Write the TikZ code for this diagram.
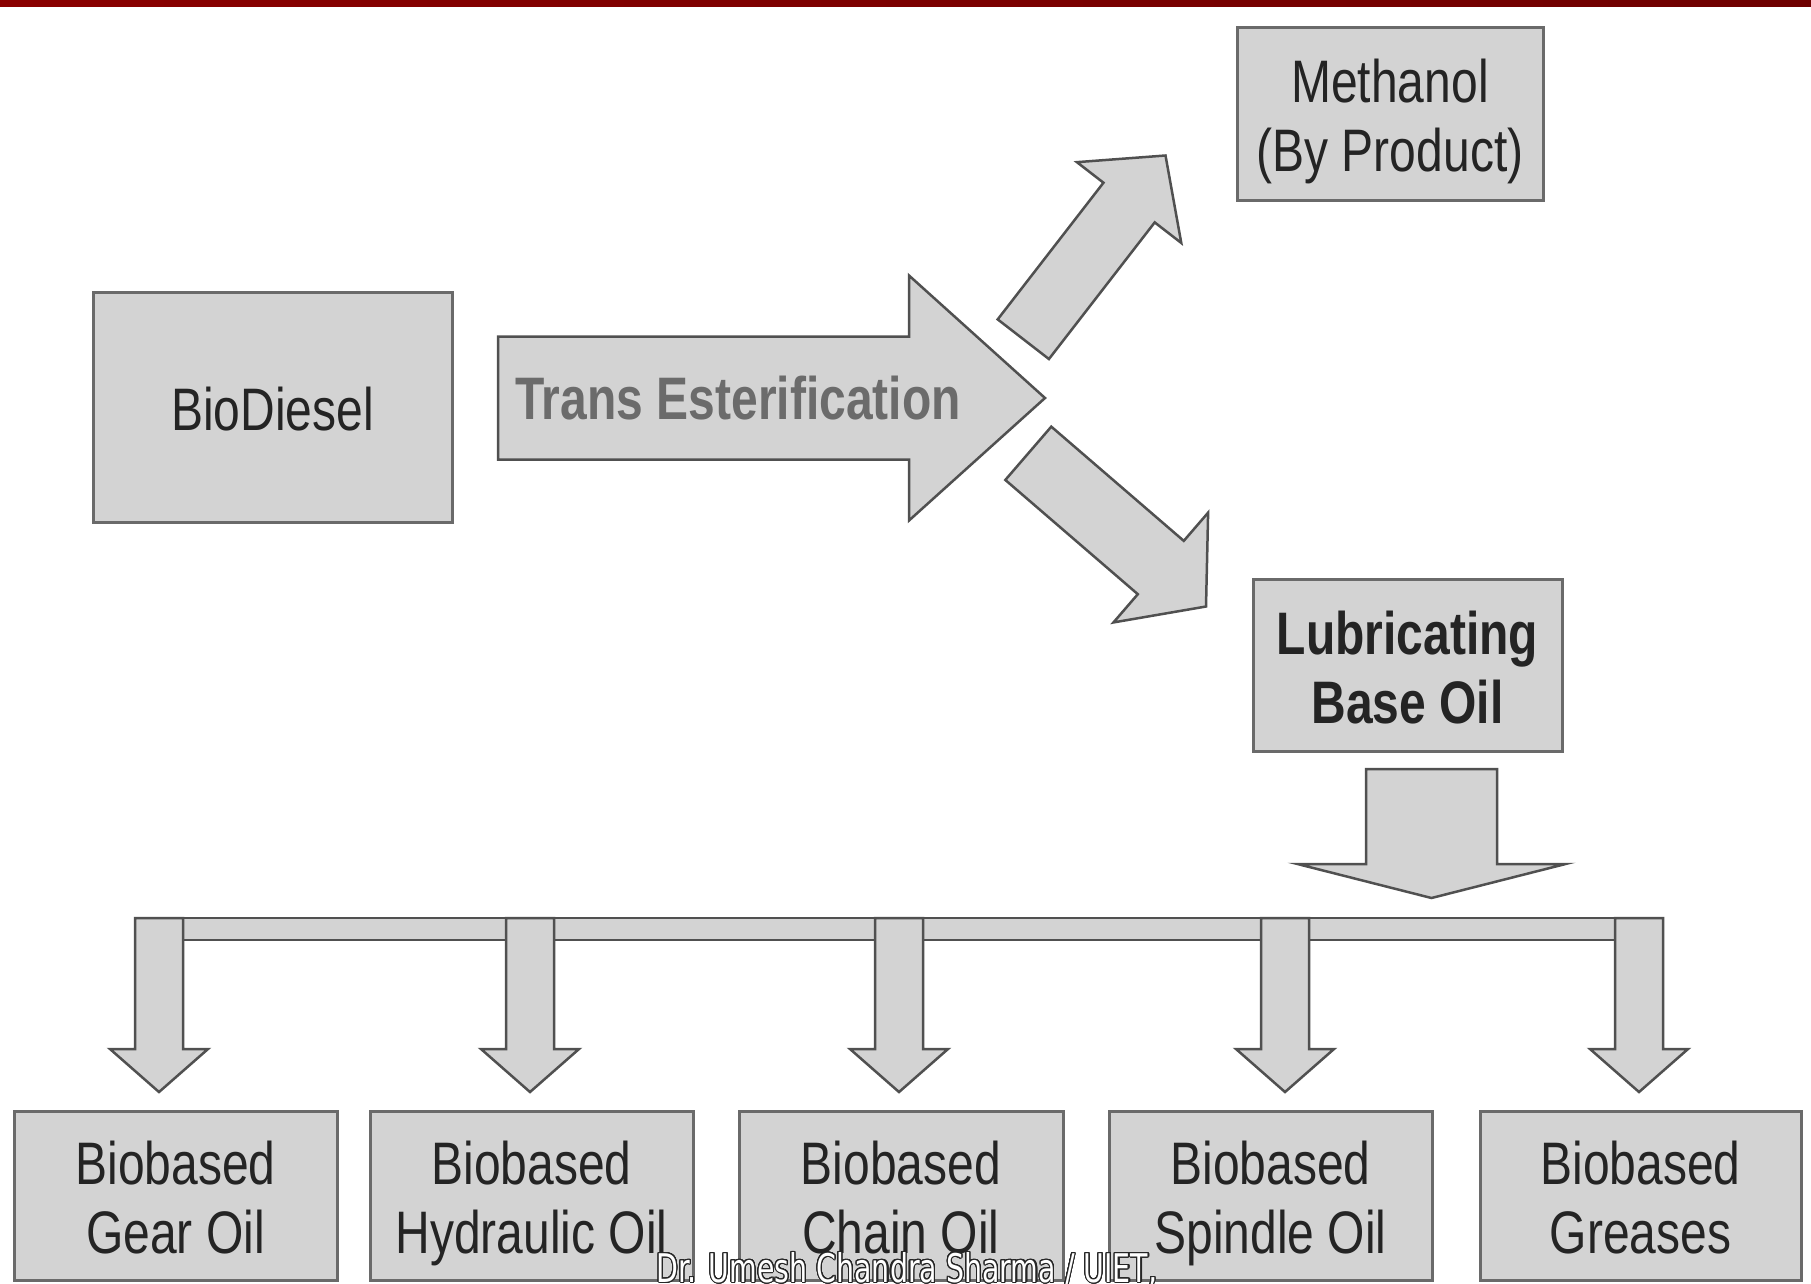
\documentclass[tikz,border=0pt]{standalone}
\usepackage{fontspec}
\setmainfont{Liberation Sans}[FakeStretch=0.8]
\newfontfamily\footfont{DejaVu Sans}[FakeStretch=0.72]
\usepackage[copies]{contour}
\usetikzlibrary{calc}
\definecolor{boxgray}{HTML}{D3D3D3}
\definecolor{edgegray}{HTML}{6A6A6A}
\definecolor{arrowedge}{HTML}{505050}
\definecolor{inkgray}{HTML}{242424}
\definecolor{slidered}{HTML}{8A0000}

% keeps every line at the same height in its box
\newcommand{\capstrut}{\rule[-14pt]{0pt}{75pt}}

% block arrow: name, tail, tip, shaft half width, head half width, head length
\newcommand{\blockarrow}[6]{%
  \coordinate (#1-b) at ($(#3)!#6!(#2)$);
  \draw[arrowbody] ($(#2)!#4!90:(#3)$) -- ($(#1-b)!#4!90:(#3)$)
    -- ($(#1-b)!#5!90:(#3)$) -- (#3) -- ($(#1-b)!#5!-90:(#3)$)
    -- ($(#1-b)!#4!-90:(#3)$) -- ($(#2)!#4!-90:(#3)$) -- cycle;
}

\begin{document}
\begin{tikzpicture}[x=1pt, y=-1pt,
    box/.style={draw=edgegray, line width=3pt, fill=boxgray, text=inkgray,
      align=center, inner sep=0pt, font=\fontsize{60pt}{69pt}\selectfont,
      execute at end node=\capstrut},
    arrowbody/.style={draw=arrowedge, line width=2.5pt, fill=boxgray, line join=miter}]
        \useasboundingbox (0,0) rectangle (1811,1283);
        \fill[left color=slidered, right color=slidered!80!black] (0,0) rectangle (1811,6);

        % top part
        \node[box, minimum width=359pt, minimum height=230pt] (biodiesel) at (272.5,407) {\capstrut BioDiesel};
        \node[box, minimum width=306pt, minimum height=173pt] (methanol) at (1390,113.5) {\capstrut Methanol\\(By Product)};
        \node[box, minimum width=309pt, minimum height=172pt, font=\fontsize{60pt}{69pt}\selectfont\bfseries] (lube) at (1407.5,665) {\capstrut Lubricating\\Base Oil};

        \coordinate (te-tail) at (498,398);
        \coordinate (te-tip) at (1045,398);
        \blockarrow{te}{te-tail}{te-tip}{61.5pt}{122.5pt}{136pt}
        \node[text=black!58, font=\fontsize{60pt}{69pt}\selectfont\bfseries] (trans) at (738,398) {Trans Esterification};

        \coordinate (up-tail) at (1023.3,339.2);
        \coordinate (up-tip) at (1165.5,155.5);
        \blockarrow{up}{up-tail}{up-tip}{32.4pt}{66pt}{59.5pt}
        \coordinate (dn-tail) at (1028.3,453.3);
        \coordinate (dn-tip) at (1206,606.5);
        \blockarrow{dn}{dn-tail}{dn-tip}{35.2pt}{72.5pt}{59.7pt}

        \coordinate (lube-tail) at (1431.5,769);
        \coordinate (lube-tip) at (1431.5,898);
        \blockarrow{lb}{lube-tail}{lube-tip}{65.5pt}{134pt}{34pt}

        % distribution bar
        \draw[arrowbody] (135,918) rectangle (1663,940);
        \foreach \x [count=\i] in {159,530,899,1285,1639} {
            \coordinate (b\i-tail) at (\x,918);
            \coordinate (b\i-tip) at (\x,1092);
            \blockarrow{b\i}{b\i-tail}{b\i-tip}{24pt}{49pt}{43pt}
        }

        % products
        \node[box, minimum width=323pt, minimum height=169pt] (gear) at (175.5,1195.5) {\capstrut Biobased\\Gear Oil};
        \node[box, minimum width=323pt, minimum height=169pt] (hydraulic) at (531.5,1195.5) {\capstrut Biobased\\Hydraulic Oil};
        \node[box, minimum width=324pt, minimum height=169pt] (chain) at (901,1195.5) {\capstrut Biobased\\Chain Oil};
        \node[box, minimum width=323pt, minimum height=169pt] (spindle) at (1270.5,1195.5) {\capstrut Biobased\\Spindle Oil};
        \node[box, minimum width=321pt, minimum height=169pt] (greases) at (1640.5,1195.5) {\capstrut Biobased\\Greases};

        \contourlength{1.1pt}
        \contournumber{24}
        \node[font=\footfont\fontsize{39.5pt}{42pt}\selectfont] (footer) at (907,1270)
            {{\color{white}\contour{black!85}{Dr. Umesh Chandra Sharma / UIET,}}};
    \end{tikzpicture}
\end{document}
